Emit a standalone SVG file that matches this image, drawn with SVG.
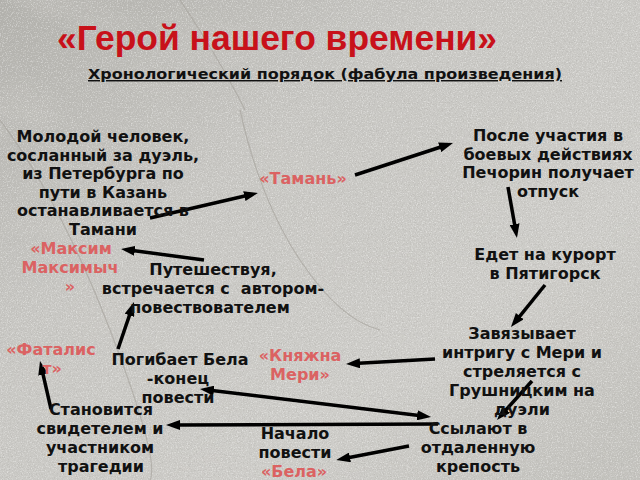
<svg xmlns="http://www.w3.org/2000/svg" width="640" height="480" viewBox="0 0 640 480">
  <defs>
    <linearGradient id="bg" x1="0" y1="0" x2="1" y2="1">
      <stop offset="0" stop-color="#b2b1ac"/>
      <stop offset="0.35" stop-color="#c8c7c3"/>
      <stop offset="0.7" stop-color="#cecdc9"/>
      <stop offset="1" stop-color="#c2c1bc"/>
    </linearGradient>
    <filter id="darkgrain" x="0" y="0" width="100%" height="100%">
      <feTurbulence type="fractalNoise" baseFrequency="0.85" numOctaves="2" seed="3"/>
      <feColorMatrix type="matrix" values="0 0 0 0 0.42  0 0 0 0 0.41  0 0 0 0 0.39  0 0 0 3 -1.5"/>
    </filter>
    <filter id="lightgrain" x="0" y="0" width="100%" height="100%">
      <feTurbulence type="fractalNoise" baseFrequency="0.8" numOctaves="2" seed="11"/>
      <feColorMatrix type="matrix" values="0 0 0 0 0.95  0 0 0 0 0.95  0 0 0 0 0.94  0 0 0 3 -1.5"/>
    </filter>
    <filter id="mottle" x="0" y="0" width="100%" height="100%">
      <feTurbulence type="fractalNoise" baseFrequency="0.008 0.014" numOctaves="3" seed="7"/>
      <feColorMatrix type="matrix" values="0 0 0 0 0.6  0 0 0 0 0.59  0 0 0 0 0.56  0 0 0 2.5 -1.2"/>
    </filter>
    <marker id="ah" viewBox="0 0 14 10" refX="6" refY="5" markerWidth="14" markerHeight="10" markerUnits="userSpaceOnUse" orient="auto-start-reverse">
      <path d="M0,0 L14,5 L0,10 z" fill="#000"/>
    </marker>
    <style>
      .t { font-family: "DejaVu Sans", "Noto Sans", sans-serif; font-weight: bold; font-size: 16px; fill: #111; text-anchor: middle; }
      .r { font-family: "DejaVu Sans", "Noto Sans", sans-serif; font-weight: bold; font-size: 16px; fill: #db6262; text-anchor: middle; }
      .title { font-family: "Liberation Sans", Arial, sans-serif; font-weight: bold; font-size: 35px; fill: #c8111a; }
      .sub { font-family: "DejaVu Sans", "Noto Sans", sans-serif; font-weight: bold; font-size: 14.5px; fill: #111; text-decoration: underline; }
      .arr { fill: none; stroke: #000; stroke-width: 3.5; marker-end: url(#ah); }
      .dbl { marker-start: url(#ah); }
      .crack { fill: none; stroke: #a29f97; stroke-width: 1.2; opacity: 0.6; }
    </style>
  </defs>

  <g id="background">
    <rect width="640" height="480" fill="url(#bg)"/>
    <rect width="640" height="480" filter="url(#mottle)" opacity="0.45"/>
    <rect width="640" height="480" filter="url(#darkgrain)" opacity="0.45"/>
    <rect width="640" height="480" filter="url(#lightgrain)" opacity="0.45"/>
    <path class="crack" d="M0,120 Q60,200 110,330 T150,480"/>
    <path class="crack" d="M240,110 Q260,200 300,260 T380,330"/>
    <path class="crack" d="M180,0 Q220,60 245,110"/>
  </g>

  <g id="title">
    <text class="title" x="57" y="50" textLength="440" lengthAdjust="spacingAndGlyphs">«Герой нашего времени»</text>
    <text class="sub" x="88" y="79" textLength="474" lengthAdjust="spacingAndGlyphs">Хронологический порядок (фабула произведения)</text>
  </g>

  <g id="connectors">
    <line class="arr" x1="150" y1="218" x2="250.2" y2="194.8"/>
    <line class="arr" x1="355" y1="175" x2="445.4" y2="145.5"/>
    <line class="arr" x1="508" y1="187" x2="515.6" y2="230.1"/>
    <line class="arr" x1="545" y1="285" x2="516" y2="320.8"/>
    <line class="arr" x1="435" y1="359" x2="354" y2="363.6"/>
    <line class="arr" x1="532" y1="381" x2="502.3" y2="414"/>
    <line class="arr dbl" x1="207.9" y1="390" x2="423.1" y2="416"/>
    <line class="arr" x1="438" y1="424" x2="174" y2="425"/>
    <line class="arr" x1="409" y1="446" x2="344.1" y2="458.5"/>
    <line class="arr" x1="51" y1="409" x2="41.8" y2="368.8"/>
    <line class="arr" x1="118" y1="349" x2="131.4" y2="309.6"/>
    <line class="arr" x1="204" y1="260" x2="128.9" y2="250"/>
  </g>

  <g id="node-molodoy">
    <text class="t" x="103" y="142">Молодой человек,</text>
    <text class="t" x="103" y="160.6">сосланный за дуэль,</text>
    <text class="t" x="103" y="179.2">из Петербурга по</text>
    <text class="t" x="103" y="197.8">пути в Казань</text>
    <text class="t" x="103" y="216.4">останавливается в</text>
    <text class="t" x="103" y="235">Тамани</text>
  </g>
  <g id="node-taman">
    <text class="r" x="303" y="184">«Тамань»</text>
  </g>
  <g id="node-posle">
    <text class="t" x="548" y="141">После участия в</text>
    <text class="t" x="548" y="159.6">боевых действиях</text>
    <text class="t" x="548" y="178.2">Печорин получает</text>
    <text class="t" x="548" y="196.8">отпуск</text>
  </g>
  <g id="node-edet">
    <text class="t" x="545" y="260">Едет на курорт</text>
    <text class="t" x="545" y="278.6">в Пятигорск</text>
  </g>
  <g id="node-zavyazyvaet">
    <text class="t" x="522" y="339">Завязывает</text>
    <text class="t" x="522" y="358">интригу с Мери и</text>
    <text class="t" x="522" y="377">стреляется с</text>
    <text class="t" x="522" y="396">Грушницким на</text>
    <text class="t" x="522" y="415">дуэли</text>
  </g>
  <g id="node-knyazhna">
    <text class="r" x="300" y="361">«Княжна</text>
    <text class="r" x="300" y="380">Мери»</text>
  </g>
  <g id="node-ssylayut">
    <text class="t" x="478" y="434">Ссылают в</text>
    <text class="t" x="478" y="453">отдаленную</text>
    <text class="t" x="478" y="472">крепость</text>
  </g>
  <g id="node-nachalo">
    <text class="t" x="295" y="439">Начало</text>
    <text class="t" x="295" y="458">повести</text>
    <text class="r" x="294" y="477">«Бела»</text>
  </g>
  <g id="node-pogibaet">
    <text class="t" x="180" y="365">Погибает Бела</text>
    <text class="t" x="178" y="384">-конец</text>
    <text class="t" x="178" y="403">повести</text>
  </g>
  <g id="node-stanovitsya">
    <text class="t" x="101" y="415">Становится</text>
    <text class="t" x="100" y="434">свидетелем и</text>
    <text class="t" x="100" y="453">участником</text>
    <text class="t" x="101" y="472">трагедии</text>
  </g>
  <g id="node-fatalist">
    <text class="r" x="51" y="355">«Фаталис</text>
    <text class="r" x="52" y="374">т»</text>
  </g>
  <g id="node-puteshestvuya">
    <text class="t" x="213" y="275">Путешествуя,</text>
    <text class="t" x="213" y="294" xml:space="preserve">встречается с  автором-</text>
    <text class="t" x="210" y="313">повествователем</text>
  </g>
  <g id="node-maksim">
    <text class="r" x="71" y="254">«Максим</text>
    <text class="r" x="70" y="273">Максимыч</text>
    <text class="r" x="70" y="292">»</text>
  </g>
</svg>
